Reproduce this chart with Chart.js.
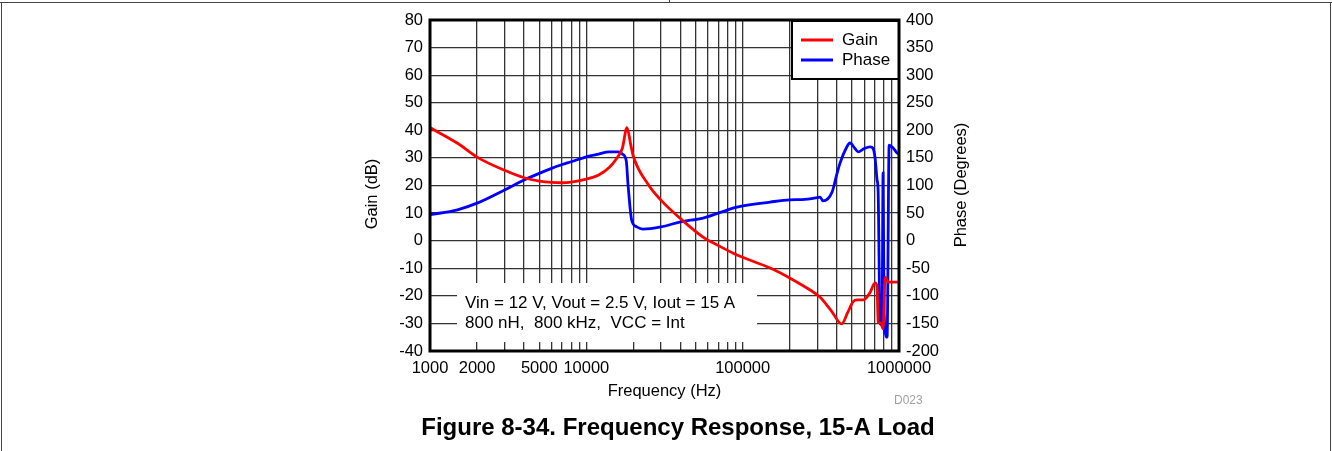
<!DOCTYPE html>
<html>
<head>
<meta charset="utf-8">
<script src="https://cdn.jsdelivr.net/npm/chart.js@4.4.1/dist/chart.umd.min.js"></script>
<style>
  html, body { margin: 0; padding: 0; background: #fff; }
  #wrap { position: relative; width: 1332px; height: 451px; overflow: hidden; }
  #wrap canvas { position: absolute; left: 0; top: 0; }
  .frame { position: absolute; background: #444; }
</style>
</head>
<body>
<div id="wrap">
  <canvas id="bodeChart" width="1332" height="451"></canvas>
  <div class="frame" style="left:0;top:2px;width:1332px;height:1px"></div>
  <div class="frame" style="left:1px;top:2px;width:1px;height:449px"></div>
  <div class="frame" style="left:1330px;top:2px;width:1px;height:449px"></div>
  <div class="frame" style="left:669px;top:0;width:1px;height:2px"></div>
</div>
<script>
// Datos
const gainFreq = [1000, 1500, 2000, 3000, 4000, 5000, 6000, 7000, 8000, 10000, 12000, 14000, 15500, 17000, 18200, 19200, 20000, 25000, 30000, 40000, 55800, 70000, 92000, 150000, 200000, 270000, 313000, 370000, 430000, 470000, 508000, 540000, 589000, 650000, 703000, 724000, 735000, 768000, 791000, 815000, 852000, 1000000];
const gainDb = [41, 35.3, 30.3, 25.5, 22.8, 21.6, 21.1, 21.0, 21.2, 22.3, 23.8, 26.5, 29.5, 33.5, 41, 35, 30.5, 20.2, 14.7, 8, 1.3, -1.8, -5.2, -9.9, -13.5, -17.9, -20.5, -25.5, -30.2, -26, -22.2, -21.5, -21.5, -19, -15.3, -16.5, -29.5, -30, -32, -13.2, -15, -15];

const phaseFreq = [1000, 1500, 2000, 3000, 4000, 5000, 6000, 7000, 8000, 10000, 12000, 14000, 16000, 17000, 18000, 18500, 19500, 21000, 23000, 30000, 40000, 55800, 92000, 150000, 200000, 240000, 300000, 313000, 327000, 373000, 400000, 420000, 460000, 486000, 520000, 547000, 600000, 653000, 680000, 703000, 724000, 735000, 757000, 779000, 791000, 803000, 839000, 865000, 917000, 972000, 1000000];
const phaseDeg = [47, 56, 68, 92, 110, 122, 131, 138, 143, 152, 157, 161, 161, 157, 145, 100, 37, 25, 21, 25, 34, 41, 61, 70, 74, 74.5, 78, 79, 72, 88, 120, 141, 168, 177, 168, 161, 167, 170, 168, 150, 110, 92, -149, -153, 123, -131, -175, 173, 168, 159, 157];

const xTickLabels = [1000, 2000, 5000, 10000, 100000, 1000000];
const xDecades = [1000, 10000, 100000];
const gainTitle = 'Gain (dB)';
const phaseTitle = 'Phase (Degrees)';
const freqTitle = 'Frequency (Hz)';
const noteLines = ['Vin = 12 V, Vout = 2.5 V, Iout = 15 A', '800 nH,  800 kHz,  VCC = Int'];
const figureTitle = 'Figure 8-34. Frequency Response, 15-A Load';
const figureCode = 'D023';

const FONT = "'Liberation Sans', Arial, Helvetica, sans-serif";

// rejilla: 1..9 por década
const xGrid = [];
xDecades.forEach(d => { for (let k = 1; k <= 9; k++) xGrid.push(d * k); });
xGrid.push(1000000);

const toPoints = (xs, ys) => xs.map((x, i) => ({ x, y: ys[i] }));

// cuadro de texto blanco dentro del área
const notePlugin = {
    id: 'noteBox',
    beforeDatasetsDraw(chart) {
        const ctx = chart.ctx;
        ctx.save();
        ctx.fillStyle = '#fff';
        ctx.fillRect(457, 283, 300, 59);
        ctx.fillStyle = '#000';
        ctx.font = '17px ' + FONT;
        ctx.textBaseline = 'middle';
        ctx.fillText(noteLines[0], 465, 303);
        ctx.fillText(noteLines[1], 465, 323);
        ctx.restore();
    }
};

// borde, leyenda, títulos de ejes y pie
const framePlugin = {
    id: 'frameAndLegend',
    afterDatasetsDraw(chart) {
        const ctx = chart.ctx;
        const a = chart.chartArea;
        ctx.save();
        // leyenda
        ctx.fillStyle = '#fff';
        ctx.fillRect(791, a.top, a.right - 791, 59);
        ctx.strokeStyle = '#000';
        ctx.lineWidth = 2;
        ctx.strokeRect(792, a.top + 1, a.right - 792, 58);
        ctx.lineWidth = 3;
        ctx.strokeStyle = '#ff0000';
        ctx.beginPath(); ctx.moveTo(801, 40); ctx.lineTo(833, 40); ctx.stroke();
        ctx.strokeStyle = '#0000ff';
        ctx.beginPath(); ctx.moveTo(801, 60); ctx.lineTo(833, 60); ctx.stroke();
        ctx.fillStyle = '#000';
        ctx.font = '17px ' + FONT;
        ctx.textBaseline = 'middle';
        ctx.fillText('Gain', 842, 40);
        ctx.fillText('Phase', 842, 60);
        // borde del área
        ctx.lineWidth = 3;
        ctx.strokeStyle = '#000';
        ctx.strokeRect(a.left, a.top, a.right - a.left, a.bottom - a.top);
        // títulos verticales (ambos de abajo hacia arriba)
        ctx.textAlign = 'center';
        ctx.font = '16.5px ' + FONT;
        ctx.save();
        ctx.translate(372, 194);
        ctx.rotate(-Math.PI / 2);
        ctx.fillText(gainTitle, 0, 0);
        ctx.restore();
        ctx.save();
        ctx.translate(961, 185);
        ctx.rotate(-Math.PI / 2);
        ctx.fillText(phaseTitle, 0, 0);
        ctx.restore();
        // pie
        ctx.font = 'bold 24px ' + FONT;
        ctx.fillText(figureTitle, 678, 428);
        ctx.textAlign = 'left';
        ctx.font = '12px ' + FONT;
        ctx.fillStyle = '#a0a0a0';
        ctx.fillText(figureCode, 894, 401);
        ctx.restore();
    }
};

const gridColor = '#333';

new Chart(document.getElementById('bodeChart').getContext('2d'), {
    type: 'line',
    data: {
        datasets: [{
            label: 'Gain',
            data: toPoints(gainFreq, gainDb),
            borderColor: '#ff0000',
            borderWidth: 2.8,
            pointRadius: 0,
            cubicInterpolationMode: 'monotone',
            yAxisID: 'y'
        }, {
            label: 'Phase',
            data: toPoints(phaseFreq, phaseDeg),
            borderColor: '#0000ff',
            borderWidth: 2.8,
            pointRadius: 0,
            cubicInterpolationMode: 'monotone',
            yAxisID: 'y1'
        }]
    },
    options: {
        responsive: false,
        animation: false,
        devicePixelRatio: 1,
        layout: { padding: { left: 359, right: 359, top: 20, bottom: 46 } },
        plugins: {
            legend: { display: false },
            tooltip: { enabled: false }
        },
        scales: {
            x: {
                type: 'logarithmic',
                min: 1000,
                max: 1000000,
                afterBuildTicks: (scale) => { scale.ticks = xGrid.map(v => ({ value: v })); },
                afterFit: (scale) => { scale.height = 54; },
                grid: { color: gridColor, lineWidth: 1.3, drawTicks: false },
                border: { display: false },
                ticks: {
                    autoSkip: false,
                    maxRotation: 0,
                    padding: 8,
                    color: '#000',
                    font: { family: FONT, size: 16.5 },
                    callback: (v) => xTickLabels.some(t => Math.abs(t - v) / t < 1e-6) ? String(v) : ''
                },
                title: { display: true, text: freqTitle, color: '#000', font: { family: FONT, size: 16.5 }, padding: { top: 2, bottom: 4 } }
            },
            y: {
                position: 'left',
                min: -40,
                max: 80,
                afterFit: (scale) => { scale.width = 71; },
                grid: { color: gridColor, lineWidth: 1.3, drawTicks: false },
                border: { display: false },
                ticks: { stepSize: 10, padding: 7, color: '#000', font: { family: FONT, size: 16.5 } }
            },
            y1: {
                position: 'right',
                min: -200,
                max: 400,
                afterFit: (scale) => { scale.width = 74; },
                grid: { drawOnChartArea: false, drawTicks: false },
                border: { display: false },
                ticks: { stepSize: 50, padding: 7, color: '#000', font: { family: FONT, size: 16.5 } }
            }
        }
    },
    plugins: [notePlugin, framePlugin]
});
</script>
</body>
</html>
